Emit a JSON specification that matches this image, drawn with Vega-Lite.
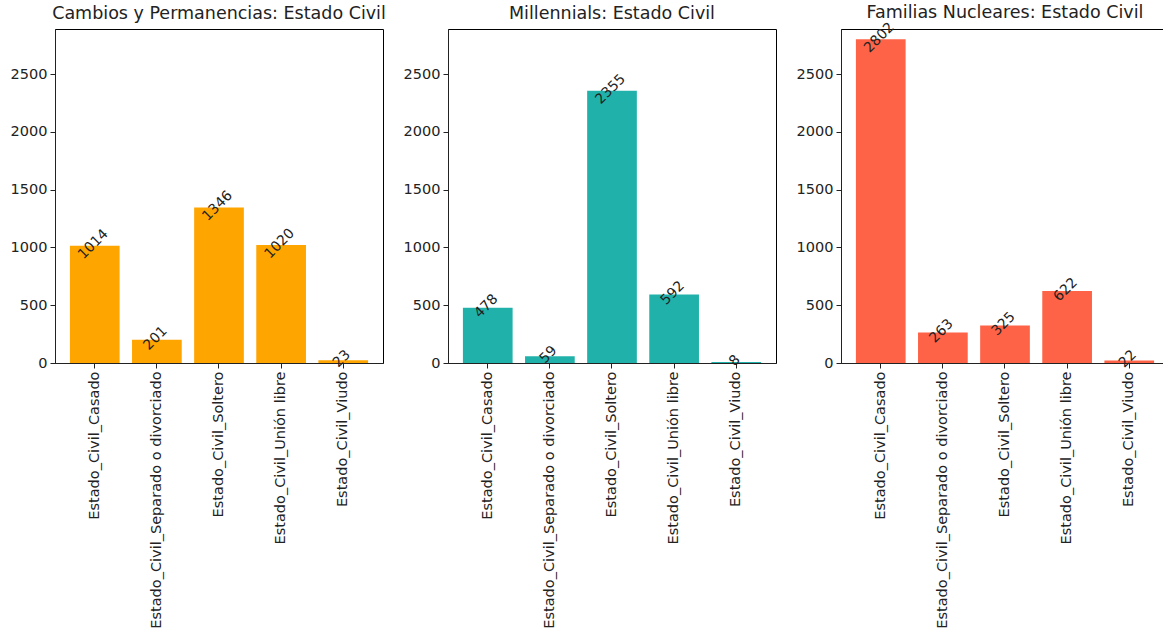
{
  "$schema": "https://vega.github.io/schema/vega-lite/v6.json",
  "padding": {"left": 9, "top": 3, "right": 0, "bottom": 0},
  "background": "white",
  "config": {
    "font": "DejaVu Sans",
    "view": {"stroke": "black", "strokeWidth": 1},
    "concat": {"spacing": 65},
    "axis": {
      "grid": false,
      "labelFont": "DejaVu Sans",
      "labelFontSize": 14.5,
      "labelColor": "#222",
      "tickColor": "#222",
      "domainColor": "#222",
      "tickSize": 5,
      "labelPadding": 3,
      "labelLimit": 500,
      "title": null
    },
    "title": {"font": "DejaVu Sans", "fontSize": 17.5, "fontWeight": "normal", "color": "#222", "offset": 7}
  },
  "bounds": "flush",
  "data": {
    "values": [
      {"panel": "A", "cat": "Estado_Civil_Casado", "value": 1014},
      {"panel": "A", "cat": "Estado_Civil_Separado o divorciado", "value": 201},
      {"panel": "A", "cat": "Estado_Civil_Soltero", "value": 1346},
      {"panel": "A", "cat": "Estado_Civil_Unión libre", "value": 1020},
      {"panel": "A", "cat": "Estado_Civil_Viudo", "value": 23},
      {"panel": "B", "cat": "Estado_Civil_Casado", "value": 478},
      {"panel": "B", "cat": "Estado_Civil_Separado o divorciado", "value": 59},
      {"panel": "B", "cat": "Estado_Civil_Soltero", "value": 2355},
      {"panel": "B", "cat": "Estado_Civil_Unión libre", "value": 592},
      {"panel": "B", "cat": "Estado_Civil_Viudo", "value": 8},
      {"panel": "C", "cat": "Estado_Civil_Casado", "value": 2802},
      {"panel": "C", "cat": "Estado_Civil_Separado o divorciado", "value": 263},
      {"panel": "C", "cat": "Estado_Civil_Soltero", "value": 325},
      {"panel": "C", "cat": "Estado_Civil_Unión libre", "value": 622},
      {"panel": "C", "cat": "Estado_Civil_Viudo", "value": 22}
    ]
  },
  "hconcat": [
    {
      "title": "Cambios y Permanencias: Estado Civil",
      "width": 328, "height": 334,
      "transform": [{"filter": "datum.panel === 'A'"}],
      "encoding": {
        "x": {"field": "cat", "type": "nominal", "sort": null, "scale": {"paddingInner": 0.2, "paddingOuter": 0.24}, "axis": {"labelAngle": -90}},
        "y": {"field": "value", "type": "quantitative", "scale": {"domain": [0, 2890], "nice": false}, "axis": {"values": [0, 500, 1000, 1500, 2000, 2500], "format": "d"}}
      },
      "layer": [
        {"mark": {"type": "bar", "color": "#FFA500"}},
        {"mark": {"type": "text", "angle": 315, "align": "center", "baseline": "middle", "fontSize": 14, "color": "#222", "dy": -2}, "encoding": {"text": {"field": "value", "type": "quantitative", "format": "d"}}}
      ]
    },
    {
      "title": "Millennials: Estado Civil",
      "width": 328, "height": 334,
      "transform": [{"filter": "datum.panel === 'B'"}],
      "encoding": {
        "x": {"field": "cat", "type": "nominal", "sort": null, "scale": {"paddingInner": 0.2, "paddingOuter": 0.24}, "axis": {"labelAngle": -90}},
        "y": {"field": "value", "type": "quantitative", "scale": {"domain": [0, 2890], "nice": false}, "axis": {"values": [0, 500, 1000, 1500, 2000, 2500], "format": "d"}}
      },
      "layer": [
        {"mark": {"type": "bar", "color": "#20B2AA"}},
        {"mark": {"type": "text", "angle": 315, "align": "center", "baseline": "middle", "fontSize": 14, "color": "#222", "dy": -2}, "encoding": {"text": {"field": "value", "type": "quantitative", "format": "d"}}}
      ]
    },
    {
      "title": {"text": "Familias Nucleares: Estado Civil", "dy": 8},
      "width": 328, "height": 334,
      "transform": [{"filter": "datum.panel === 'C'"}],
      "encoding": {
        "x": {"field": "cat", "type": "nominal", "sort": null, "scale": {"paddingInner": 0.2, "paddingOuter": 0.24}, "axis": {"labelAngle": -90}},
        "y": {"field": "value", "type": "quantitative", "scale": {"domain": [0, 2890], "nice": false}, "axis": {"values": [0, 500, 1000, 1500, 2000, 2500], "format": "d"}}
      },
      "layer": [
        {"mark": {"type": "bar", "color": "#FF6347"}},
        {"mark": {"type": "text", "angle": 315, "align": "center", "baseline": "middle", "fontSize": 14, "color": "#222", "dy": -2}, "encoding": {"text": {"field": "value", "type": "quantitative", "format": "d"}}}
      ]
    }
  ]
}
